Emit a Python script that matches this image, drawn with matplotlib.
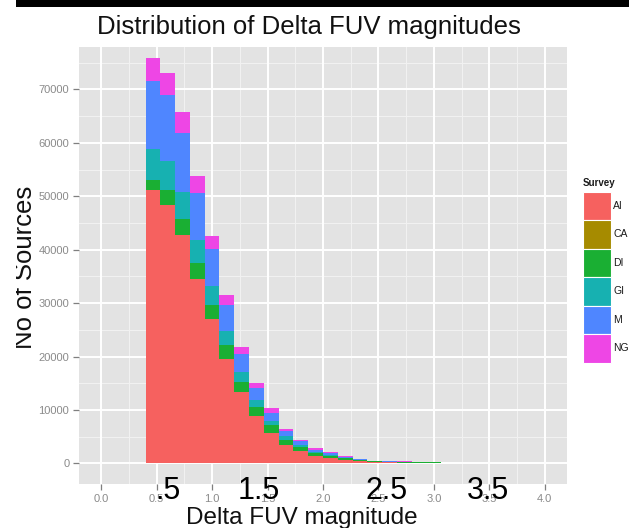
import matplotlib
matplotlib.use("Agg")
import matplotlib.pyplot as plt
from matplotlib.patches import Rectangle
import numpy as np

plt.rcParams['font.family'] = ['Liberation Sans', 'DejaVu Sans']

# ---- data (counts per bin, stacked) ----
bin_start = 0.4
bin_width = 4.0 / 30
surveys = ["AI", "CA", "DI", "GI", "M", "NG"]   # labels as visible (cropped) in the reference
colors = ["#F6615F", "#A68B00", "#1AAF33", "#17B1B1", "#4F86FF", "#EE46E5"]

ais = [51100, 48400, 42700, 34500, 27000, 19600, 13300, 8900, 5650, 3460, 2400, 1460, 1000,
       650, 400, 250, 200, 120, 50, 40, 20, 20, 20, 10, 10, 10, 10]
cai = [0] * 27
dis = [2000, 2800, 3000, 3100, 2700, 2600, 2000, 1700, 1550, 940, 750, 440, 400,
       300, 200, 150, 120, 100, 150, 150, 20, 0, 0, 0, 0, 0, 0]
gii = [5800, 5400, 5200, 4200, 3500, 2600, 1900, 1300, 800, 800, 300, 200, 150,
       100, 60, 40, 30, 20, 10, 10, 0, 0, 0, 0, 0, 0, 0]
mis = [12600, 12400, 10900, 8800, 6900, 4900, 3300, 2300, 1500, 800, 700, 400, 350,
       200, 150, 80, 80, 100, 30, 20, 120, 10, 0, 0, 0, 0, 0]
ngs = [4300, 4000, 3900, 3200, 2500, 1800, 1300, 900, 800, 500, 250, 340, 200,
       130, 90, 30, 20, 40, 10, 10, 10, 30, 30, 20, 20, 20, 20]
series = [ais, cai, dis, gii, mis, ngs]

x_ticks = [0.0, 0.5, 1.0, 1.5, 2.0, 2.5, 3.0, 3.5, 4.0]
x_ticklabels = ["0.0", "0.5", "1.0", "1.5", "2.0", "2.5", "3.0", "3.5", "4.0"]
y_ticks = [0, 10000, 20000, 30000, 40000, 50000, 60000, 70000]
y_ticklabels = ["0", "10000", "20000", "30000", "40000", "50000", "60000", "70000"]
overlay_labels = [".5", "1.5", "2.5", "3.5"]

W, H = 629, 528
fig = plt.figure(figsize=(W / 100, H / 100), dpi=100)
fig.patch.set_facecolor("white")

def fx(px):
    return px / W

def fy(py):
    return 1 - py / H

pl, pr, pt, pb = 79, 567, 47, 484
ax = fig.add_axes([fx(pl), fy(pb), (pr - pl) / W, (pb - pt) / H])
ax.set_facecolor("#E3E3E3")
for s in ax.spines.values():
    s.set_visible(False)

ax.set_xlim(-0.2, 4.2)
ax.set_ylim(-3840, 77950)

# grid
for v in np.arange(0.25, 4.2, 0.5):
    ax.axvline(v, color="#F2F2F2", lw=0.7, zorder=0)
for v in np.arange(5000, 77950, 10000):
    ax.axhline(v, color="#F2F2F2", lw=0.7, zorder=0)
for v in x_ticks:
    ax.axvline(v, color="white", lw=1.4, zorder=0.5)
for v in y_ticks:
    ax.axhline(v, color="white", lw=1.4, zorder=0.5)

n = len(ais)
lefts = [bin_start + k * bin_width for k in range(n)]
bottom = np.zeros(n)
for vals, c in zip(series, colors):
    vals = np.array(vals, dtype=float)
    ax.bar(lefts, vals, width=bin_width, bottom=bottom, align="edge",
           color=c, linewidth=0, zorder=2)
    bottom += vals

ax.set_xticks(x_ticks)
ax.set_xticklabels(x_ticklabels)
ax.set_yticks(y_ticks)
ax.set_yticklabels(y_ticklabels)
ax.tick_params(axis="both", colors="#7F7F7F", labelcolor="#8A8A8A",
               labelsize=8, length=4, width=0.9, pad=3)

# titles / labels (slide overlays)
fig.text(fx(308.5), fy(27), "Distribution of Delta FUV magnitudes",
         fontsize=18.5, ha="center", va="center", color="#111111")
fig.text(fx(302), fy(524), "Delta FUV magnitude", fontsize=17.5,
         ha="center", va="baseline", color="#111111")
fig.text(fx(25), fy(267), "No of Sources", fontsize=18.5, rotation=90,
         ha="center", va="center", color="#111111")

# large overlay numbers
for lab, cx in zip(overlay_labels, [168, 259, 387, 488]):
    fig.text(fx(cx), fy(499), lab, fontsize=22, ha="center", va="baseline",
             color="black")

# legend
fig.text(fx(583), fy(183), "Survey", fontsize=7, fontweight="bold",
         ha="left", va="center", color="#1a1a1a")
ktop, kh = 191.7, 28.5
for i, (name, c) in enumerate(zip(surveys, colors)):
    y0 = ktop + i * kh
    fig.patches.append(Rectangle((fx(583), fy(y0 + kh)), 28 / W, kh / H,
                                 transform=fig.transFigure, facecolor=c,
                                 edgecolor="white", linewidth=0.8))
    fig.text(fx(613), fy(y0 + kh / 2), name, fontsize=7.5, ha="left",
             va="center", color="#1a1a1a")

# top black bar and left white mask
fig.patches.append(Rectangle((fx(16), fy(7)), (W - 16) / W, 7 / H,
                             transform=fig.transFigure, facecolor="black",
                             edgecolor="none", zorder=10))
fig.patches.append(Rectangle((0, 0), 16 / W, 1 - 7 / H,
                             transform=fig.transFigure, facecolor="white",
                             edgecolor="none", zorder=10))

fig.savefig("out.png", dpi=100)
